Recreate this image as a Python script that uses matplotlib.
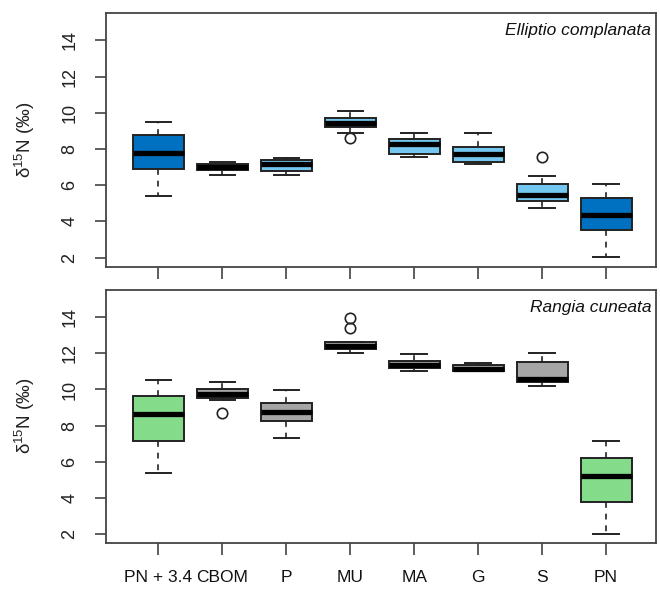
import matplotlib
matplotlib.use("Agg")
import matplotlib.pyplot as plt

plt.rcParams['font.family'] = ['Liberation Sans', 'DejaVu Sans']
plt.rcParams['mathtext.default'] = 'regular'

categories = ["PN + 3.4", "CBOM", "P", "MU", "MA", "G", "S", "PN"]

# Elliptio complanata (top panel): whislo, q1, med, q3, whishi, fliers
ell_whislo = [5.42, 6.56, 6.56, 8.86, 7.58, 7.17, 4.73, 2.04]
ell_q1     = [6.87, 6.83, 6.78, 9.23, 7.74, 7.26, 5.12, 3.50]
ell_med    = [7.78, 7.03, 7.17, 9.44, 8.28, 7.75, 5.48, 4.37]
ell_q3     = [8.75, 7.20, 7.42, 9.70, 8.53, 8.13, 6.09, 5.32]
ell_whishi = [9.48, 7.27, 7.48, 10.09, 8.86, 8.88, 6.49, 6.09]
ell_fliers = [[], [], [], [8.62], [], [], [7.57], []]
ell_colors = ["#0070C0", "#74C7EF", "#74C7EF", "#74C7EF", "#74C7EF", "#74C7EF", "#74C7EF", "#0070C0"]

# Rangia cuneata (bottom panel)
ran_whislo = [5.36, 9.41, 7.33, 12.04, 11.04, 11.01, 10.22, 1.96]
ran_q1     = [7.15, 9.52, 8.23, 12.22, 11.21, 11.01, 10.44, 3.75]
ran_med    = [8.62, 9.76, 8.73, 12.42, 11.38, 11.14, 10.58, 5.22]
ran_q3     = [9.61, 10.03, 9.24, 12.64, 11.56, 11.34, 11.54, 6.21]
ran_whishi = [10.55, 10.42, 9.96, 12.65, 11.96, 11.47, 12.04, 7.15]
ran_fliers = [[], [8.69], [], [13.43, 13.95], [], [], [], []]
ran_colors = ["#84DB8A", "#A6A6A6", "#A6A6A6", "#A6A6A6", "#A6A6A6", "#A6A6A6", "#A6A6A6", "#84DB8A"]

yticks = [2, 4, 6, 8, 10, 12, 14]
ylabel = r"δ$^{15}$N (‰)"

W, H = 660, 590
fig = plt.figure(figsize=(W / 100, H / 100), dpi=100)
ax1 = fig.add_axes([106 / W, 1 - 267 / H, 550 / W, 254 / H])
ax2 = fig.add_axes([106 / W, 1 - 543 / H, 550 / W, 253 / H])


def draw(ax, lo, q1, med, q3, hi, fl, colors, title, show_labels):
    stats = []
    for i, c in enumerate(categories):
        stats.append(dict(label=c, whislo=lo[i], q1=q1[i], med=med[i],
                          q3=q3[i], whishi=hi[i], fliers=fl[i]))
    pos = list(range(1, len(categories) + 1))
    bp = ax.bxp(stats, positions=pos, widths=0.8, patch_artist=True,
                boxprops=dict(edgecolor="#222222", linewidth=1.4),
                medianprops=dict(color="black", linewidth=3.8, solid_capstyle="butt"),
                whiskerprops=dict(color="#222222", linewidth=1.2, linestyle=(0, (3.5, 3.5))),
                capprops=dict(color="#222222", linewidth=1.4),
                capwidths=0.4,
                flierprops=dict(marker="o", markerfacecolor="none",
                                markeredgecolor="#222222", markersize=7.5,
                                markeredgewidth=1.2))
    for patch, col in zip(bp["boxes"], colors):
        patch.set_facecolor(col)
    ax.set_xlim(0.18, 8.78)
    ax.set_ylim(1.48, 15.52)
    ax.set_yticks(yticks)
    ax.set_yticklabels([str(v) for v in yticks], rotation=90, va="center",
                       fontsize=13, color="#222222")
    ax.set_xticks(pos)
    if show_labels:
        ax.set_xticklabels(categories, fontsize=12.5, color="#111111")
    else:
        ax.set_xticklabels([])
    ax.tick_params(axis="y", length=8, width=1.1, color="#333333", pad=12)
    ax.tick_params(axis="x", length=8.5, width=1.1, color="#333333", pad=11)
    for s in ax.spines.values():
        s.set_color("#444444")
        s.set_linewidth(1.3)
    ax.text(0.991, 0.93, title, transform=ax.transAxes, ha="right", va="center",
            fontsize=12.5, style="italic", color="#111111")


draw(ax1, ell_whislo, ell_q1, ell_med, ell_q3, ell_whishi, ell_fliers, ell_colors,
     "Elliptio complanata", False)
draw(ax2, ran_whislo, ran_q1, ran_med, ran_q3, ran_whishi, ran_fliers, ran_colors,
     "Rangia cuneata", True)

fig.text(25 / W, 1 - 140 / H, ylabel, rotation=90, ha="center", va="center",
         fontsize=13.5, color="#222222")
fig.text(25 / W, 1 - 416 / H, ylabel, rotation=90, ha="center", va="center",
         fontsize=13.5, color="#222222")

fig.savefig("out.png", dpi=100, facecolor="white")
